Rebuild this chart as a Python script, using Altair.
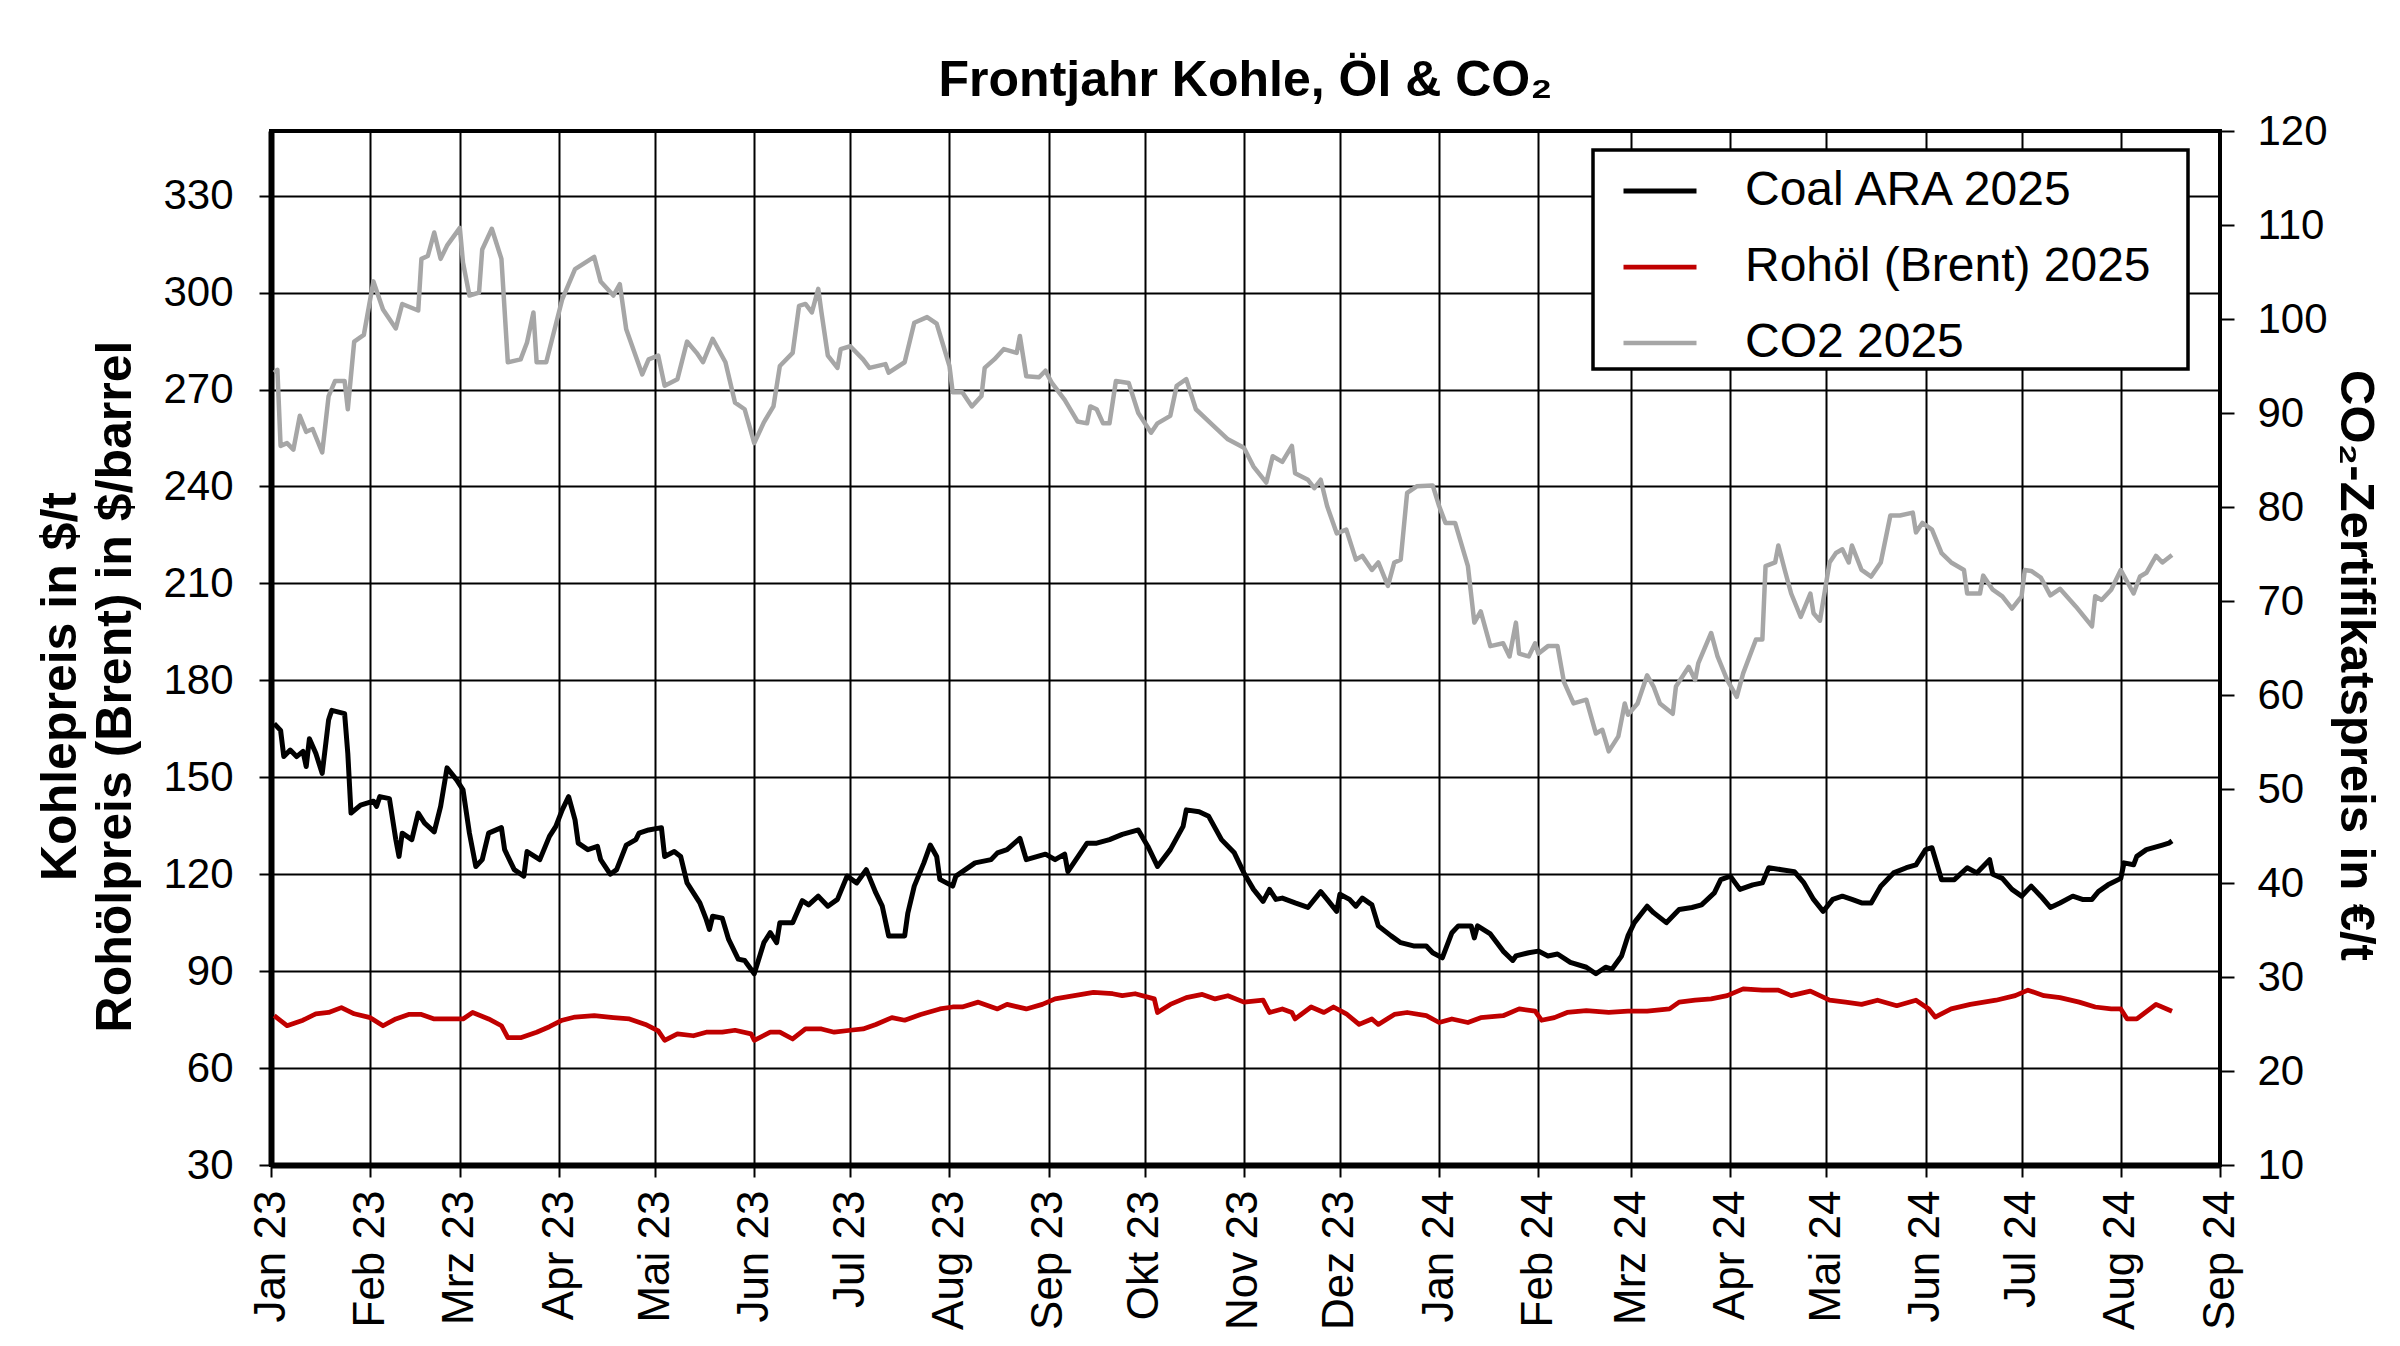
import altair as alt
import pandas as pd

# ---------------- data (day offset from 2023-01-01, value) ----------------
coal_days = [1, 3, 4, 6, 8, 10, 11, 12, 14, 16, 18, 19, 23, 24, 25, 28, 32, 33, 34, 37, 39, 40, 41, 44, 46, 48,
             51, 53, 55, 58, 60, 62, 64, 66, 68, 72, 73, 76, 79, 80, 84, 87, 89, 91, 93, 95, 96, 99, 102, 103,
             106, 108, 111, 114, 115, 118, 122, 123, 126, 128, 130, 134, 136, 137, 138, 141, 143, 146, 148,
             151, 154, 156, 158, 159, 163, 166, 168, 171, 174, 177, 180, 183, 186, 189, 191, 193, 198, 199,
             201, 204, 206, 208, 209, 213, 214, 220, 225, 227, 230, 234, 236, 242, 245, 248, 249, 255, 258,
             262, 266, 271, 274, 277, 281, 285, 286, 290, 293, 297, 301, 304, 307, 310, 312, 314, 316, 320,
             324, 328, 330, 333, 334, 337, 339, 341, 344, 346, 350, 353, 357, 361, 363, 366, 369, 371, 375,
             376, 377, 381, 385, 388, 389, 393, 396, 399, 402, 406, 411, 414, 417, 419, 422, 424, 426, 430,
             432, 436, 440, 444, 447, 451, 453, 456, 459, 463, 466, 468, 472, 476, 479, 482, 485, 488, 491,
             494, 497, 500, 503, 507, 511, 514, 517, 519, 522, 526, 530, 533, 537, 538, 541, 544, 547, 550,
             553, 556, 559, 563, 566, 569, 571, 574, 578, 579, 582, 583, 586, 591, 593, 594]
coal_vals = [166.6, 164.5, 156.4, 158.4, 156.4, 158.0, 153.3, 161.9, 157.4, 151.2, 167.7, 170.7, 169.7, 157.4,
             138.9, 141.4, 142.6, 141.0, 144.0, 143.4, 130.7, 125.5, 132.7, 130.7, 138.9, 135.8, 133.1, 141.0,
             152.9, 149.2, 146.1, 132.7, 122.4, 124.5, 132.7, 134.4, 127.6, 121.4, 119.4, 127.0, 124.5, 131.7,
             134.8, 139.9, 144.0, 136.8, 129.6, 127.6, 128.6, 124.5, 120.0, 121.4, 129.0, 130.7, 132.7, 133.7,
             134.4, 125.5, 127.0, 125.5, 117.3, 111.1, 106.0, 102.9, 107.0, 106.4, 99.8, 93.7, 93.3, 89.2,
             98.8, 101.9, 98.8, 105.0, 105.0, 111.8, 110.5, 113.2, 110.1, 112.2, 119.4, 117.3, 121.4, 114.2,
             110.1, 100.9, 100.9, 108.0, 116.3, 123.5, 129.0, 125.5, 118.4, 116.3, 119.4, 123.5, 124.5, 126.6,
             127.6, 131.1, 124.5, 126.2, 124.5, 126.2, 120.8, 129.6, 129.6, 130.7, 132.3, 133.7, 128.6, 122.4,
             127.6, 134.8, 139.9, 139.3, 137.9, 130.7, 126.6, 120.4, 115.3, 111.6, 115.3, 112.2, 112.6, 111.1,
             109.7, 114.6, 112.2, 108.5, 113.8, 112.2, 110.1, 112.6, 110.5, 104.0, 100.9, 98.8, 97.8, 97.8,
             95.7, 94.1, 101.9, 104.0, 104.0, 100.3, 104.0, 101.5, 96.2, 93.3, 94.7, 95.7, 96.2, 94.7, 95.3,
             92.7, 91.2, 89.2, 91.2, 90.6, 94.7, 100.9, 105.0, 110.1, 108.1, 105.0, 109.1, 109.7, 110.5, 114.2,
             118.3, 119.4, 115.3, 116.7, 117.3, 122.0, 121.4, 120.8, 117.3, 112.2, 108.5, 112.2, 113.2, 112.2,
             111.1, 111.1, 116.3, 120.4, 122.0, 122.9, 127.6, 128.2, 118.3, 118.3, 122.0, 120.4, 124.5, 120.0,
             118.7, 115.3, 113.2, 116.3, 113.2, 109.7, 111.1, 113.2, 112.2, 112.2, 114.6, 116.7, 118.7, 123.5,
             122.9, 125.5, 127.6, 129.0, 129.6, 130.3]

oil_days = [1, 5, 10, 14, 18, 22, 26, 31, 35, 39, 43, 47, 51, 56, 60, 63, 68, 72, 74, 78, 83, 87, 91, 95, 101,
            107, 112, 117, 121, 123, 127, 132, 136, 141, 145, 150, 151, 156, 159, 163, 167, 172, 176, 181, 185,
            189, 194, 198, 203, 209, 213, 216, 221, 227, 230, 236, 241, 245, 251, 257, 263, 266, 270, 276, 277,
            281, 286, 291, 295, 299, 304, 310, 312, 316, 319, 320, 325, 329, 332, 336, 340, 344, 346, 351, 355,
            361, 365, 369, 374, 378, 385, 390, 395, 397, 401, 405, 411, 418, 424, 430, 437, 440, 445, 450, 455,
            460, 466, 471, 475, 481, 487, 492, 497, 502, 508, 514, 518, 520, 525, 531, 539, 545, 549, 554, 559,
            565, 570, 575, 578, 580, 583, 589, 594]
oil_vals = [76.2, 73.1, 74.8, 76.8, 77.2, 78.7, 76.8, 75.6, 73.1, 75.2, 76.6, 76.6, 75.2, 75.2, 75.2, 77.2,
            75.2, 73.1, 69.4, 69.4, 71.1, 72.8, 74.8, 75.8, 76.2, 75.6, 75.2, 73.5, 71.5, 68.6, 70.6, 70.0,
            71.1, 71.1, 71.7, 70.6, 68.6, 71.1, 71.1, 69.0, 72.1, 72.1, 71.1, 71.7, 72.1, 73.5, 75.6, 74.8,
            76.6, 78.3, 78.9, 78.9, 80.4, 78.3, 79.7, 78.3, 79.7, 81.4, 82.4, 83.4, 83.0, 82.4, 83.0, 81.4,
            77.2, 79.7, 81.8, 82.8, 81.4, 82.4, 80.4, 81.0, 77.2, 78.3, 77.2, 75.2, 78.9, 77.2, 78.9, 76.8,
            73.5, 75.2, 73.5, 76.6, 77.2, 76.2, 74.1, 75.2, 74.1, 75.6, 76.2, 78.3, 77.6, 74.8, 75.6, 77.2,
            77.8, 77.2, 77.6, 77.6, 78.3, 80.4, 81.0, 81.4, 82.4, 84.5, 84.1, 84.1, 82.4, 83.8, 81.0, 80.4,
            79.7, 81.0, 79.3, 81.0, 78.3, 75.8, 78.3, 79.7, 81.0, 82.4, 84.1, 82.4, 81.8, 80.4, 78.9, 78.3,
            78.3, 75.2, 75.2, 79.7, 77.6]

co2_days = [1, 2, 3, 5, 7, 9, 11, 13, 16, 18, 20, 23, 24, 26, 29, 32, 35, 39, 41, 46, 47, 49, 51, 53, 55, 59,
            60, 62, 65, 66, 69, 72, 74, 78, 80, 82, 83, 86, 91, 95, 101, 103, 107, 109, 111, 116, 118, 121, 123,
            127, 130, 133, 135, 138, 142, 145, 148, 151, 154, 157, 159, 163, 165, 167, 169, 171, 172, 174, 177,
            178, 181, 185, 187, 192, 193, 198, 201, 205, 208, 212, 213, 216, 219, 222, 223, 226, 229, 233, 234,
            236, 240, 242, 244, 248, 252, 255, 256, 258, 260, 262, 264, 268, 271, 275, 277, 281, 283, 286, 289,
            294, 299, 304, 307, 311, 313, 316, 319, 320, 324, 326, 328, 330, 333, 336, 339, 341, 344, 346, 349,
            351, 353, 355, 358, 363, 365, 367, 370, 374, 376, 378, 381, 385, 387, 389, 390, 393, 395, 396, 399,
            402, 404, 407, 411, 414, 416, 418, 421, 423, 424, 427, 430, 432, 434, 438, 439, 443, 445, 446, 450,
            452, 455, 458, 460, 464, 466, 467, 470, 471, 473, 475, 478, 481, 482, 484, 487, 489, 491, 493, 494,
            497, 500, 503, 506, 509, 513, 514, 516, 519, 522, 525, 529, 530, 534, 535, 538, 541, 544, 547, 548,
            550, 553, 556, 559, 564, 569, 570, 572, 575, 578, 582, 584, 586, 589, 591, 594]
co2_vals = [94.3, 94.6, 86.5, 86.8, 86.1, 89.7, 88.0, 88.3, 85.8, 91.8, 93.4, 93.4, 90.4, 97.6, 98.3, 104.0,
            101.0, 99.0, 101.6, 100.9, 106.4, 106.7, 109.2, 106.4, 107.8, 109.7, 106.0, 102.5, 102.8, 107.4,
            109.6, 106.4, 95.4, 95.7, 97.5, 100.7, 95.4, 95.4, 102.1, 105.3, 106.6, 104.0, 102.5, 103.7, 98.9,
            94.1, 95.7, 96.1, 92.9, 93.6, 97.6, 96.4, 95.4, 97.9, 95.4, 91.1, 90.4, 86.8, 89.0, 90.7, 95.0,
            96.4, 101.4, 101.6, 100.7, 103.2, 100.7, 96.1, 94.8, 96.8, 97.1, 95.7, 94.8, 95.2, 94.3, 95.4,
            99.6, 100.2, 99.5, 95.0, 92.2, 92.2, 90.7, 91.8, 94.8, 95.7, 96.8, 96.4, 98.2, 93.9, 93.8, 94.5,
            93.2, 91.4, 89.1, 88.9, 90.7, 90.4, 88.9, 88.9, 93.4, 93.2, 90.0, 87.9, 88.9, 89.7, 92.9, 93.6,
            90.4, 88.8, 87.2, 86.3, 84.3, 82.6, 85.4, 84.8, 86.5, 83.6, 82.9, 82.0, 82.9, 80.1, 77.2, 77.6,
            74.4, 74.8, 73.3, 74.1, 71.6, 74.1, 74.4, 81.5, 82.2, 82.3, 80.1, 78.3, 78.3, 73.7, 67.7, 68.9,
            65.2, 65.5, 64.1, 67.7, 64.4, 64.1, 65.5, 64.4, 65.2, 65.2, 61.4, 59.1, 59.5, 55.9, 56.3, 54.0,
            55.6, 59.1, 57.9, 59.1, 62.1, 60.9, 59.1, 58.0, 60.9, 63.0, 61.6, 63.4, 66.6, 64.1, 61.6, 59.8,
            62.3, 65.9, 65.9, 73.7, 74.1, 75.9, 73.3, 70.8, 68.3, 70.8, 68.7, 67.9, 74.1, 75.1, 75.5, 74.1,
            75.9, 73.3, 72.6, 74.1, 79.1, 79.1, 79.4, 77.3, 78.3, 77.6, 75.1, 74.1, 73.3, 70.8, 70.8, 72.7,
            71.2, 70.5, 69.2, 70.5, 73.3, 73.2, 72.5, 70.6, 71.3, 69.4, 67.3, 70.5, 70.1, 71.2, 73.3, 70.8,
            72.6, 73.0, 74.8, 74.1, 74.9]

SERIES = ["Coal ARA 2025", "Rohöl (Brent) 2025", "CO2 2025"]
COLORS = ["#000000", "#C00000", "#A6A6A6"]
WIDTHS = [5, 4.5, 5]
MONTHS_DE = ["Jan", "Feb", "Mrz", "Apr", "Mai", "Jun", "Jul", "Aug", "Sep", "Okt", "Nov", "Dez"]
LEFT_TICKS = [30, 60, 90, 120, 150, 180, 210, 240, 270, 300, 330]
RIGHT_TICKS = [10, 20, 30, 40, 50, 60, 70, 80, 90, 100, 110, 120]

BASE = pd.Timestamp("2023-01-01")


def frame(days, vals, name):
    return pd.DataFrame({"date": BASE + pd.to_timedelta(days, unit="D"), "value": vals, "series": name})


left_df = pd.concat([frame(coal_days, coal_vals, SERIES[0]), frame(oil_days, oil_vals, SERIES[1])],
                    ignore_index=True)
co2_df = frame(co2_days, co2_vals, SERIES[2])

FONT = "Liberation Sans"
month_ticks = [alt.DateTime(year=2023 + i // 12, month=i % 12 + 1, date=1) for i in range(21)]
js_months = "[" + ",".join(f"'{m}'" for m in MONTHS_DE) + "]"
label_expr = f"{js_months}[month(datum.value)] + ' ' + timeFormat(datum.value, '%y')"

x_enc = alt.X(
    "date:T",
    scale=alt.Scale(domain=[alt.DateTime(year=2023, month=1, date=1),
                            alt.DateTime(year=2024, month=9, date=1)]),
    axis=alt.Axis(values=month_ticks, labelExpr=label_expr, labelAngle=-90, labelFontSize=44,
                  labelFont=FONT, labelColor="black", labelPadding=13, labelFlush=False,
                  labelOverlap=False, tickSize=12, tickWidth=2, tickColor="black",
                  grid=True, gridColor="black", gridWidth=2, gridOpacity=1,
                  domain=True, domainColor="black", domainWidth=6, title=None),
)

legend = alt.Legend(
    orient="none", legendX=1322, legendY=19, title=None, direction="vertical",
    symbolType="stroke", symbolSize=5329, symbolStrokeWidth=5, symbolOffset=26,
    labelOffset=46, labelFontSize=48, labelFont=FONT, labelColor="black", labelLimit=900,
    labelExpr="datum.label + '\u2800'",
    padding=2, rowPadding=13, strokeColor="black", fillColor="white",
)
color_enc = alt.Color("series:N", scale=alt.Scale(domain=SERIES, range=COLORS), legend=legend)
width_enc = alt.StrokeWidth("series:N", scale=alt.Scale(domain=SERIES, range=WIDTHS), legend=None)

right = alt.Chart(co2_df).mark_line(strokeJoin="round").encode(
    x=x_enc,
    y=alt.Y("value:Q", scale=alt.Scale(domain=[10, 120], nice=False, zero=False),
            axis=alt.Axis(orient="right", values=RIGHT_TICKS, grid=False, tickSize=14, tickWidth=2,
                          tickColor="black", domain=False, labelFontSize=42, labelFont=FONT,
                          labelColor="black", labelPadding=23, labelOverlap=False,
                          title="CO₂-Zertifikatspreis in €/t", titleFontSize=49, titleFont=FONT,
                          titleFontWeight="bold", titleColor="black", titlePadding=3, titleY=534)),
    color=color_enc,
    strokeWidth=width_enc,
)

left = alt.Chart(left_df).mark_line(strokeJoin="round").encode(
    x=x_enc,
    y=alt.Y("value:Q", scale=alt.Scale(domain=[30, 350], nice=False, zero=False),
            axis=alt.Axis(orient="left", values=LEFT_TICKS, grid=True, gridColor="black", gridWidth=2,
                          gridOpacity=1, tickSize=12, tickWidth=2, tickColor="black",
                          domain=True, domainColor="black", domainWidth=6, labelFontSize=42,
                          labelFont=FONT, labelColor="black", labelPadding=26, labelOverlap=False,
                          title=["Kohlepreis in $/t", "Rohölpreis (Brent) in $/barrel"],
                          titleFontSize=50, titleFont=FONT, titleFontWeight="bold", titleColor="black",
                          titleLineHeight=55, titlePadding=22, titleY=555)),
    color=color_enc,
    strokeWidth=width_enc,
)

chart = alt.layer(right, left).resolve_scale(y="independent").properties(
    width=1949,
    height=1034,
    autosize=alt.AutoSizeParams(type="none"),
    padding={"left": 263, "top": 123, "right": 172, "bottom": 170},
    title=alt.TitleParams(text="Frontjahr Kohle, Öl & CO₂", fontSize=50, fontWeight="bold", font=FONT,
                          color="black", anchor="middle", frame="group", offset=-36,
                          baseline="alphabetic"),
).configure(font=FONT, background="white").configure_view(
    stroke="black", strokeWidth=4
).configure_legend(strokeWidth=3.5)

chart.save("out.html", embed_options={"renderer": "svg", "actions": False})
